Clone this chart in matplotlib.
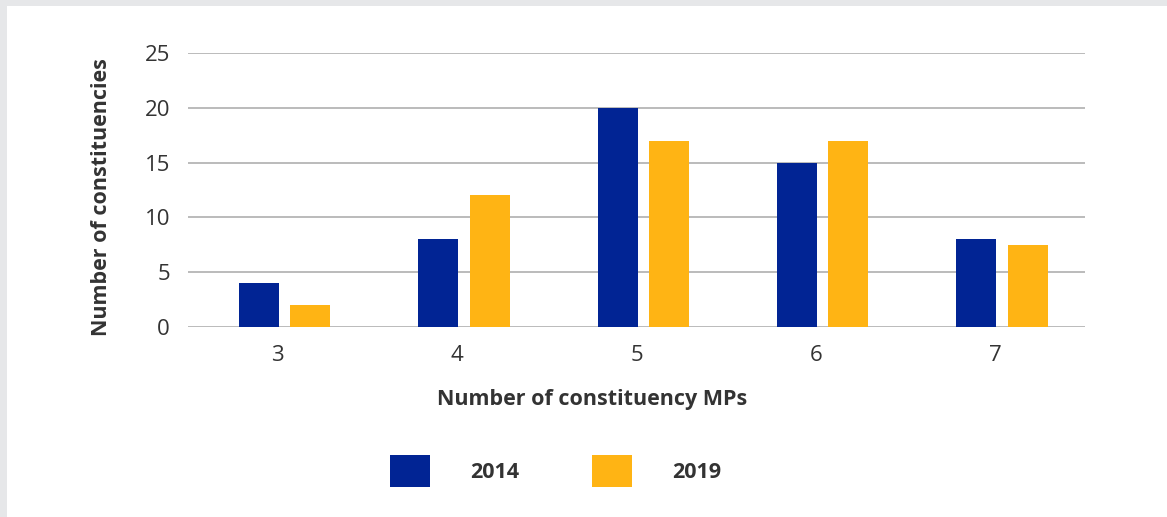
import matplotlib
matplotlib.use("Agg")
import matplotlib.pyplot as plt
from matplotlib.patches import Rectangle, Patch
import numpy as np

categories = ["3", "4", "5", "6", "7"]
values_2014 = [4, 8, 20, 15, 8]
values_2019 = [2, 12, 17, 17, 7.5]
series_names = ["2014", "2019"]
yticks = [0, 5, 10, 15, 20, 25]

BLUE = "#012494"
YELLOW = "#FFB414"
TEXT = "#333333"
GRID = "#BBBBBB"

plt.rcParams['font.family'] = ['Open Sans', 'DejaVu Sans']

W, H = 1167, 517
fig = plt.figure(figsize=(W / 100, H / 100), dpi=100)
fig.patch.set_facecolor("#E6E7E9")
fig.patches.append(Rectangle((7 / W, 0), 1 - 7 / W, 1 - 6 / H, transform=fig.transFigure,
                             facecolor="white", edgecolor="none", zorder=-10))

ax = fig.add_axes([188 / W, 1 - 327 / H, (1085 - 188) / W, (327 - 53) / H])
ax.set_facecolor("none")
ax.set_zorder(5)

x = np.arange(len(categories))
bw = 0.223
ax.bar(x - 0.105, values_2014, width=bw, color=BLUE, zorder=3, label=series_names[0])
ax.bar(x + 0.181, values_2019, width=bw, color=YELLOW, zorder=3, label=series_names[1])

ax.set_xlim(-0.5, len(categories) - 0.5)
ax.set_ylim(0, 25)
ax.set_yticks(yticks)
ax.set_yticklabels([str(t) for t in yticks])
ax.set_xticks(x)
ax.set_xticklabels(categories)
ax.tick_params(axis="both", length=0, labelsize=16, colors=TEXT)
ax.tick_params(axis="y", pad=13)
ax.tick_params(axis="x", pad=13)
ax.grid(axis="y", color=GRID, linewidth=1.4, zorder=1)
for s in ax.spines.values():
    s.set_visible(False)

fig.text(102 / W, 1 - 197 / H, "Number of constituencies", rotation=90, ha="center", va="center",
         fontsize=15.5, fontweight="bold", color=TEXT)
fig.text(592 / W, 1 - 399 / H, "Number of constituency MPs", ha="center", va="center",
         fontsize=15.5, fontweight="bold", color=TEXT)

handles = [Patch(facecolor=BLUE), Patch(facecolor=YELLOW)]
leg = fig.legend(handles, series_names, loc="center", bbox_to_anchor=(555.5 / W, 1 - 471 / H),
                 ncol=2, frameon=False, handlelength=1.86, handleheight=1.86, handletextpad=1.86,
                 columnspacing=3.4, prop={"size": 15.5, "weight": "bold"})
for t in leg.get_texts():
    t.set_color(TEXT)

fig.savefig("out.png", dpi=100, facecolor=fig.get_facecolor())
